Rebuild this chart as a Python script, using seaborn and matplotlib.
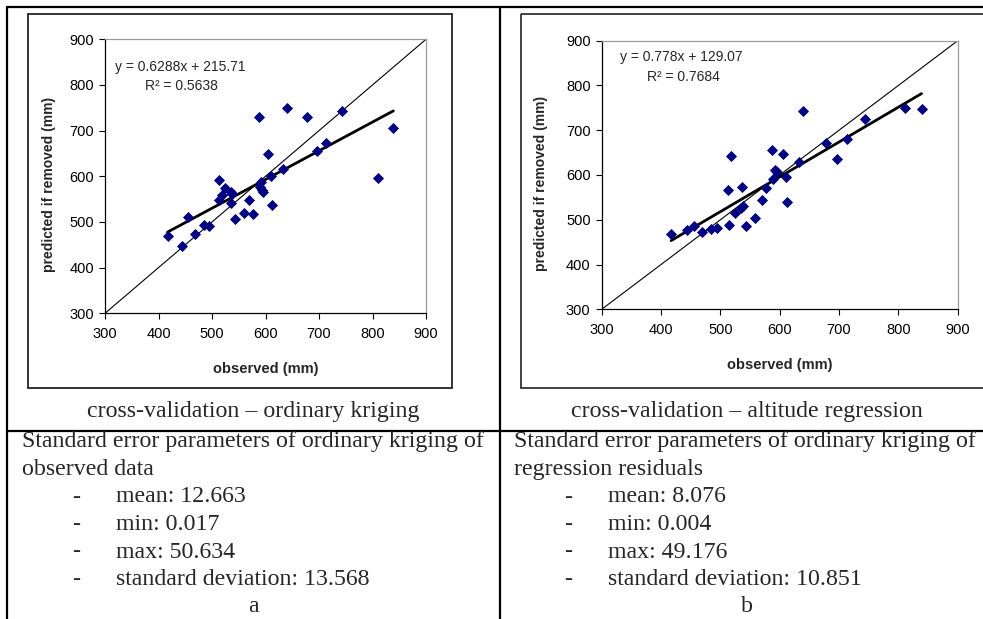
import matplotlib
matplotlib.use("Agg")
import matplotlib.pyplot as plt
from matplotlib.patches import Rectangle
import numpy as np
import pandas as pd
import seaborn as sns

# observed precipitation (mm), shared by both cross-validations
observed = [417, 443, 456, 469, 485, 495, 513, 514, 518, 524, 535, 536, 538,
            543, 559, 570, 577, 587, 589, 592, 593, 595, 605, 610, 613, 632,
            640, 678, 697, 714, 743, 811, 839]
# predicted if removed - ordinary kriging
pred_kriging = [469, 447, 510, 473, 493, 491, 549, 592, 560, 574, 541, 565, 561,
                506, 519, 549, 518, 730, 577, 588, 571, 565, 648, 601, 538, 615,
                750, 730, 655, 674, 744, 597, 705]
# predicted if removed - altitude regression
pred_regress = [468, 478, 487, 472, 479, 482, 567, 489, 642, 515, 526, 573, 530,
                487, 504, 545, 570, 655, 592, 612, 610, 607, 648, 596, 540, 628,
                744, 672, 635, 680, 726, 750, 747]

fit_kriging = (0.6288, 215.71, 0.5638)
fit_regress = (0.778, 129.07, 0.7684)
eq_labels = ["y = 0.6288x + 215.71", "y = 0.778x + 129.07"]
r2_labels = ["R\u00b2 = 0.5638", "R\u00b2 = 0.7684"]

axis_ticks = [300, 400, 500, 600, 700, 800, 900]

captions = ["cross-validation \u2013 ordinary kriging",
            "cross-validation \u2013 altitude regression"]
headers = [["Standard error parameters of ordinary kriging of", "observed data"],
           ["Standard error parameters of ordinary kriging of", "regression residuals"]]
stats = [["mean: 12.663", "min: 0.017", "max: 50.634", "standard deviation: 13.568"],
         ["mean: 8.076", "min: 0.004", "max: 49.176", "standard deviation: 10.851"]]
panel_letters = ["a", "b"]

sns.set_style("white")
plt.rcParams["font.family"] = ["Liberation Sans", "DejaVu Sans"]

W, H = 983, 619
fig = plt.figure(figsize=(W / 100, H / 100), dpi=100)

# background layer in pixel coordinates for the table and frames
bg = fig.add_axes([0, 0, 1, 1])
bg.set_xlim(0, W)
bg.set_ylim(H, 0)
bg.axis("off")

lw_tab = 1.6
bg.plot([6.5, W], [6.7, 6.7], color="black", lw=lw_tab)
bg.plot([6.5, 6.5], [6.7, H], color="black", lw=lw_tab)
bg.plot([500, 500], [6.7, H], color="black", lw=lw_tab)
bg.plot([6.5, W], [430.5, 430.5], color="black", lw=lw_tab)

bg.add_patch(Rectangle((27.5, 14), 424, 374, fill=False, edgecolor="#222222", lw=1.3))
bg.add_patch(Rectangle((521, 13.5), 500, 374, fill=False, edgecolor="#333333", lw=1.3))

serif = ["Liberation Serif", "DejaVu Serif"]
fs = 17.2
cell_left = [22, 514]
cell_mid = [253, 747]
row_y = [442, 469.5, 497, 524.5, 552, 579.5, 607]
for i in range(2):
    bg.text(cell_mid[i], 412, captions[i], family=serif, fontsize=fs,
            ha="center", va="center")
    for j, line in enumerate(headers[i]):
        bg.text(cell_left[i], row_y[j], line, family=serif, fontsize=fs,
                ha="left", va="center")
    for j, line in enumerate(stats[i]):
        bg.text(cell_left[i] + 50, row_y[j + 2], "-", family=serif, fontsize=fs,
                ha="left", va="center")
        bg.text(cell_left[i] + 94, row_y[j + 2], line, family=serif, fontsize=fs,
                ha="left", va="center")
    bg.text(cell_mid[i], row_y[6], panel_letters[i], family=serif, fontsize=fs,
            ha="center", va="center")

# scatter panels
ax_pos = [[105, 39.3, 426, 313.3], [601.7, 40.7, 957.7, 309.3]]
preds = [pred_kriging, pred_regress]
fits = [fit_kriging, fit_regress]
eq_pos = [(115, 66.7, 145, 85.5), (620, 56.7, 647, 77)]

for k in range(2):
    x0, y0, x1, y1 = ax_pos[k]
    ax = fig.add_axes([x0 / W, 1 - y1 / H, (x1 - x0) / W, (y1 - y0) / H])
    ax.set_facecolor("none")
    df = pd.DataFrame({"observed": observed, "predicted": preds[k]})

    lo, hi = axis_ticks[0], axis_ticks[-1]
    ax.axline((lo, lo), slope=1, color="black", lw=0.8, zorder=1)

    slope, icpt, _ = fits[k]
    xs = np.array([min(observed), max(observed)])
    sns.lineplot(x=xs, y=slope * xs + icpt, ax=ax, color="black", lw=2.0, zorder=2)

    sns.scatterplot(data=df, x="observed", y="predicted", ax=ax, marker="D",
                    color="#000080", edgecolor="#000080", linewidth=0, s=32,
                    zorder=3)

    ax.set_xlim(lo, hi)
    ax.set_ylim(lo, hi)
    ax.set_xticks(axis_ticks)
    ax.set_yticks(axis_ticks)
    ax.tick_params(axis="both", direction="out", length=4, width=0.8,
                   labelsize=10.5, colors="black", bottom=True, left=True)
    ax.tick_params(axis="x", pad=6)
    ax.tick_params(axis="y", pad=4)
    for side in ["left", "bottom"]:
        ax.spines[side].set_color("black")
        ax.spines[side].set_linewidth(0.9)
    for side in ["top", "right"]:
        ax.spines[side].set_color("#9a9a9a")
        ax.spines[side].set_linewidth(0.9)

    ax.set_xlabel("observed (mm)", fontsize=10.5, fontweight="bold")
    ax.set_ylabel("predicted if removed (mm)", fontsize=10, fontweight="bold")
    ax.xaxis.set_label_coords(0.5, -49 / (y1 - y0))
    ax.yaxis.set_label_coords(-(49 if k == 0 else 53.7) / (x1 - x0), 0.47)

    ex, ey, rx, ry = eq_pos[k]
    bg.text(ex, ey, eq_labels[k], fontsize=10, ha="left", va="center")
    bg.text(rx, ry, r2_labels[k], fontsize=10, ha="left", va="center")

fig.savefig("out.png", dpi=100)
